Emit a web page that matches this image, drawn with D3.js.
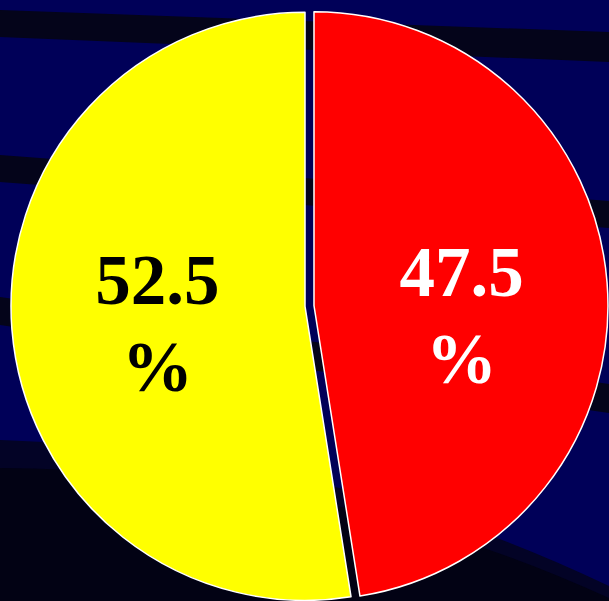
<!DOCTYPE html>
<html>
<head>
<meta charset="utf-8">
<script src="https://cdn.jsdelivr.net/npm/d3@7"></script>
<style>
  html, body { margin: 0; padding: 0; background: #000058; overflow: hidden; }
  svg { display: block; }
  .pct { font-family: "Liberation Serif", "Times New Roman", Tinos, Times, serif; font-weight: bold; font-size: 71px; }
</style>
</head>
<body>
<svg id="chart" width="609" height="601"></svg>
<script>
// Share of each group, in percent
const categories = ["Group A", "Group B"];
const values = [47.5, 52.5];
const labels = ["47.5", "52.5"];
const sliceColors = ["#ff0000", "#ffff00"];
const labelColors = ["#ffffff", "#000000"];

const width = 609, height = 601;
const svg = d3.select("#chart");

// Backdrop: navy field with dark sweeping bands
const bg = svg.append("g");
bg.append("rect").attr("width", width).attr("height", height).attr("fill", "#000058");
const bandColor = "#04041a";
[
  "M0,10 L609,32 L609,62 L0,37 Z",
  "M0,155 L609,201 L609,228 L0,182 Z",
  "M0,297 L609,384 L609,413 L0,325 Z"
].forEach(d => bg.append("path").attr("d", d).attr("fill", bandColor));
bg.append("path")
  .attr("d", "M0,440 Q330,452 609,586 L609,601 L0,601 Z")
  .attr("fill", "#030326");
bg.append("path")
  .attr("d", "M0,468 Q330,470 609,598 L609,601 L0,601 Z")
  .attr("fill", "#020214");

// Pie layout, starting at 12 o'clock and running clockwise
const cx = 309.5, cy = 306, radius = 294, explode = 4.5;
const pie = d3.pie().sort(null).value(d => d)(values);
const arc = d3.arc().innerRadius(0).outerRadius(radius);
const labelArc = d3.arc().innerRadius(148).outerRadius(148);

const slices = svg.append("g").attr("transform", `translate(${cx},${cy})`)
  .selectAll("g.slice")
  .data(pie)
  .join("g")
  .attr("class", "slice")
  .attr("transform", d => {
    const mid = (d.startAngle + d.endAngle) / 2;
    return `translate(${Math.sin(mid) * explode},${-Math.cos(mid) * explode})`;
  });

slices.append("path")
  .attr("d", arc)
  .attr("fill", (d, i) => sliceColors[i])
  .attr("stroke", "#ffffff")
  .attr("stroke-width", 1.5)
  .attr("stroke-linejoin", "round");

// Value labels sit across the middle band of each slice
const text = slices.append("text")
  .attr("class", "pct")
  .attr("text-anchor", "middle")
  .attr("fill", (d, i) => labelColors[i])
  .attr("transform", d => {
    const [x, y] = labelArc.centroid(d);
    return `translate(${x},${y * 0.3 - 6})`;
  });
text.append("tspan").attr("x", 0).attr("y", 0).text((d, i) => labels[i]);
text.append("tspan").attr("x", 0).attr("y", 87).text("%");
</script>
</body>
</html>
